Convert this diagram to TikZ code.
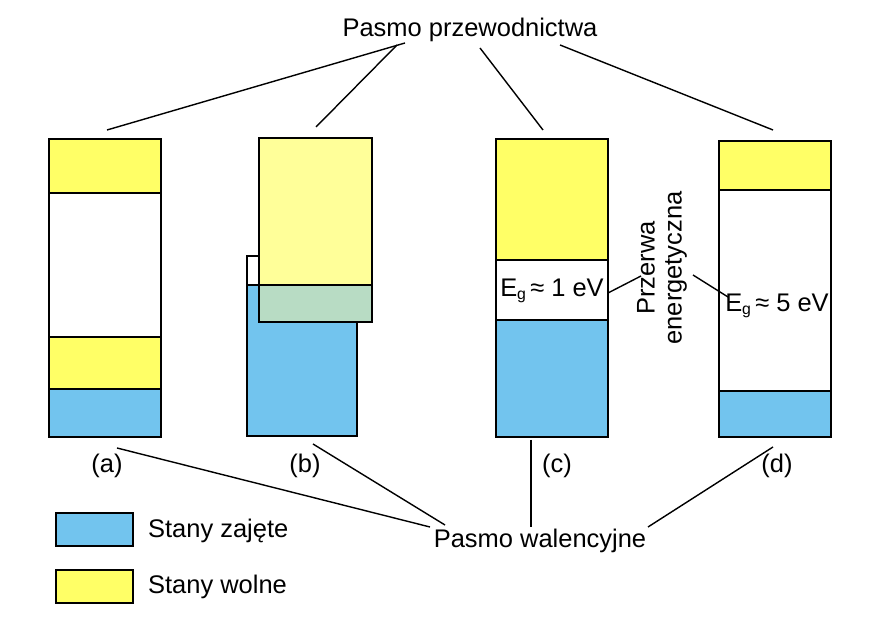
\documentclass[tikz,border=0pt]{standalone}
\usepackage{fontspec}
\setmainfont{Liberation Sans}
\usepackage{tikz}

\definecolor{wolne}{HTML}{FFFF66}
\definecolor{jasne}{HTML}{FFFF99}
\definecolor{zajete}{HTML}{72C4EE}
\definecolor{mieszane}{HTML}{B8DCC4}

\tikzset{
    band/.style={draw=black, line width=1.2pt},
    label/.style={font=\fontsize{14.5}{17}\selectfont, inner sep=1pt},
    link/.style={line width=0.8pt}
}

\begin{document}
\begin{tikzpicture}[x=0.02cm, y=-0.02cm]

    \useasboundingbox (0,0) rectangle (883,617);

    % (a)
    \draw[band, fill=wolne] (49,139) rectangle (161,193);
    \draw[band, fill=white] (49,193) rectangle (161,337);
    \draw[band, fill=wolne] (49,337) rectangle (161,389);
    \draw[band, fill=zajete] (49,389) rectangle (161,437);

    % (b)
    \draw[band, fill=white] (247,256) rectangle (259,285);
    \draw[band, fill=zajete] (247,285) rectangle (357,436);
    \draw[band, fill=jasne] (259,138) rectangle (372,285);
    \draw[band, fill=mieszane] (259,285) rectangle (372,322);

    % (c)
    \draw[band, fill=wolne] (496,139) rectangle (608,260);
    \draw[band, fill=white] (496,260) rectangle (608,320);
    \draw[band, fill=zajete] (496,320) rectangle (608,437);

    % (d)
    \draw[band, fill=wolne] (719,141) rectangle (831,190);
    \draw[band, fill=white] (719,190) rectangle (831,391);
    \draw[band, fill=zajete] (719,391) rectangle (831,437);

    % opisy
    \node[label] (przew) at (470,30) {Pasmo przewodnictwa};
    \node[label] (walen) at (540,541) {Pasmo walencyjne};
    \node[label] (la) at (107,466) {(a)};
    \node[label] (lb) at (305,466) {(b)};
    \node[label] (lc) at (557,466) {(c)};
    \node[label] (ld) at (777,466) {(d)};
    \node[label] (eg1) at (552,291) {E{\fontsize{9}{9}\selectfont\raisebox{-0.4ex}{g}}\,≈ 1 eV};
    \node[label] (eg5) at (777,306) {E{\fontsize{9}{9}\selectfont\raisebox{-0.4ex}{g}}\,≈ 5 eV};
    \node[label, rotate=90, align=center, font=\fontsize{14.5}{15.5}\selectfont]
        (przerwa) at (662,268) {Przerwa\\energetyczna};

    \coordinate (ca) at (107,130);
    \coordinate (cb) at (316,127);
    \coordinate (cc) at (543,130);
    \coordinate (cd) at (773,130);
    \draw[link] (405,43) -- (ca);
    \draw[link] (397,45) -- (cb);
    \draw[link] (480,48) -- (cc);
    \draw[link] (560,45) -- (cd);

    \coordinate (va) at (117,448);
    \coordinate (vb) at (313,444);
    \coordinate (vc) at (531,440);
    \coordinate (vd) at (773,447);
    \draw[link] (va) -- (430,527);
    \draw[link] (vb) -- (445,525);
    \draw[link] (vc) -- (531,527);
    \draw[link] (vd) -- (648,527);

    \draw[link] (608,293) -- (641,276);
    \draw[link] (693,275) -- (728,297);

    % legenda
    \draw[line width=0.8pt, fill=zajete] (56,513) rectangle (133,546);
    \node[label, anchor=west] (zaj) at (146,531) {Stany zajęte};
    \draw[line width=0.8pt, fill=wolne] (56,570) rectangle (133,603);
    \node[label, anchor=west] (wol) at (146,587) {Stany wolne};

\end{tikzpicture}
\end{document}
